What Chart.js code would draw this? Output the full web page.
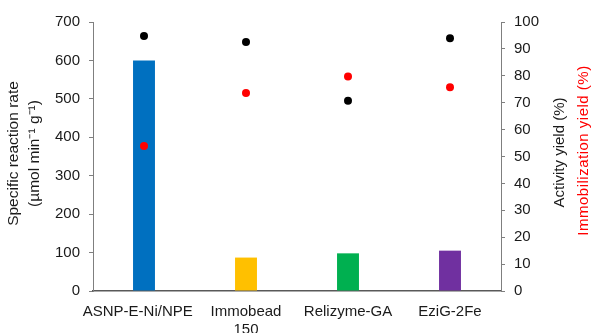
<!DOCTYPE html>
<html lang="en">
<head>
  <meta charset="UTF-8">
  <title>Specific reaction rate and yields</title>
  <script src="https://cdn.jsdelivr.net/npm/chart.js"></script>
  <style>
    body { margin:0; background:#fff; }
    #wrap { width:592px; height:333px; }
  </style>
</head>
<body>
<div id="wrap"><canvas id="chart" width="592" height="333"></canvas></div>

<script>
  // data
  const categories = ["ASNP-E-Ni/NPE   ", ["Immobead", "150"], "Relizyme-GA", "EziG-2Fe"];
  const rateValues = [600, 87, 98, 105];          // µmol min-1 g-1, left axis
  const activityYield = [94.8, 92.6, 70.7, 94.0];  // %, right axis (black)
  const immobYield = [53.9, 73.6, 79.7, 75.7];     // %, right axis (red)
  const leftTicks = [0, 100, 200, 300, 400, 500, 600, 700];
  const rightTicks = [0, 10, 20, 30, 40, 50, 60, 70, 80, 90, 100];

  const barColors = ["#0070C0", "#FFC000", "#00B050", "#7030A0"];
  const FONT = "'Liberation Sans', Arial, sans-serif";

  // axis titles drawn by hand so the right ones read bottom-to-top like the original
  const titlesPlugin = {
    id: "titles",
    afterDraw(c) {
      const ctx = c.ctx;
      const cy = (c.chartArea.top + c.chartArea.bottom) / 2;
      function vtext(str, x, y, color, size, spacing) {
        ctx.save();
        ctx.translate(x, y);
        ctx.rotate(-Math.PI / 2);
        ctx.font = size + "px " + FONT;
        ctx.fillStyle = color;
        ctx.textAlign = "center";
        ctx.textBaseline = "middle";
        if (spacing) ctx.letterSpacing = spacing;
        ctx.fillText(str, 0, 0);
        ctx.restore();
      }
      vtext("Specific reaction rate", 14, cy - 3, "#1a1a1a", 15.5);
      vtext("(\u00b5mol min\u207b\u00b9 g\u207b\u00b9)", 35, cy - 3, "#1a1a1a", 15.5);
      vtext("Activity yield (%)", 560, cy - 4, "#1a1a1a", 15);
      vtext("Immobilization yield (%)", 584, cy - 6, "#ff0000", 15, "0.5px");
    }
  };

  new Chart(document.getElementById("chart"), {
    type: "bar",
    data: {
      labels: categories,
      datasets: [
        { type: "line", data: activityYield, yAxisID: "y2", showLine: false,
          pointRadius: 4, pointBackgroundColor: "#000", pointBorderWidth: 0, order: 0 },
        { type: "line", data: immobYield, yAxisID: "y2", showLine: false,
          pointRadius: 4, pointBackgroundColor: "#ff0000", pointBorderWidth: 0, order: 1 },
        { data: rateValues, backgroundColor: barColors, yAxisID: "y",
          barPercentage: 0.43, categoryPercentage: 0.5, order: 2 }
      ]
    },
    options: {
      responsive: false,
      animation: false,
      layout: { padding: { top: 22, right: 0, bottom: 0, left: 0 } },
      plugins: { legend: { display: false }, tooltip: { enabled: false } },
      scales: {
        x: {
          grid: { display: false, drawTicks: false },
          border: { display: true, color: "#595959", width: 1.5 },
          ticks: { color: "#1a1a1a", font: { family: FONT, size: 15 }, padding: 12, maxRotation: 0, autoSkip: false },
          afterFit: s => { s.height = 42; }
        },
        y: {
          position: "left",
          min: 0, max: 700,
          afterBuildTicks: s => { s.ticks = leftTicks.map(v => ({ value: v })); },
          grid: { drawOnChartArea: false, tickLength: 4, tickColor: "#7f7f7f" },
          border: { color: "#7f7f7f" },
          ticks: { color: "#1a1a1a", font: { family: FONT, size: 15 }, padding: 9 },
          afterFit: s => { s.width = 93; }
        },
        y2: {
          position: "right",
          min: 0, max: 100,
          afterBuildTicks: s => { s.ticks = rightTicks.map(v => ({ value: v })); },
          grid: { drawOnChartArea: false, tickLength: 4, tickColor: "#7f7f7f" },
          border: { color: "#7f7f7f" },
          ticks: { color: "#1a1a1a", font: { family: FONT, size: 15 }, padding: 9 },
          afterFit: s => { s.width = 91; }
        }
      }
    },
    plugins: [titlesPlugin]
  });
</script>
</body>
</html>
